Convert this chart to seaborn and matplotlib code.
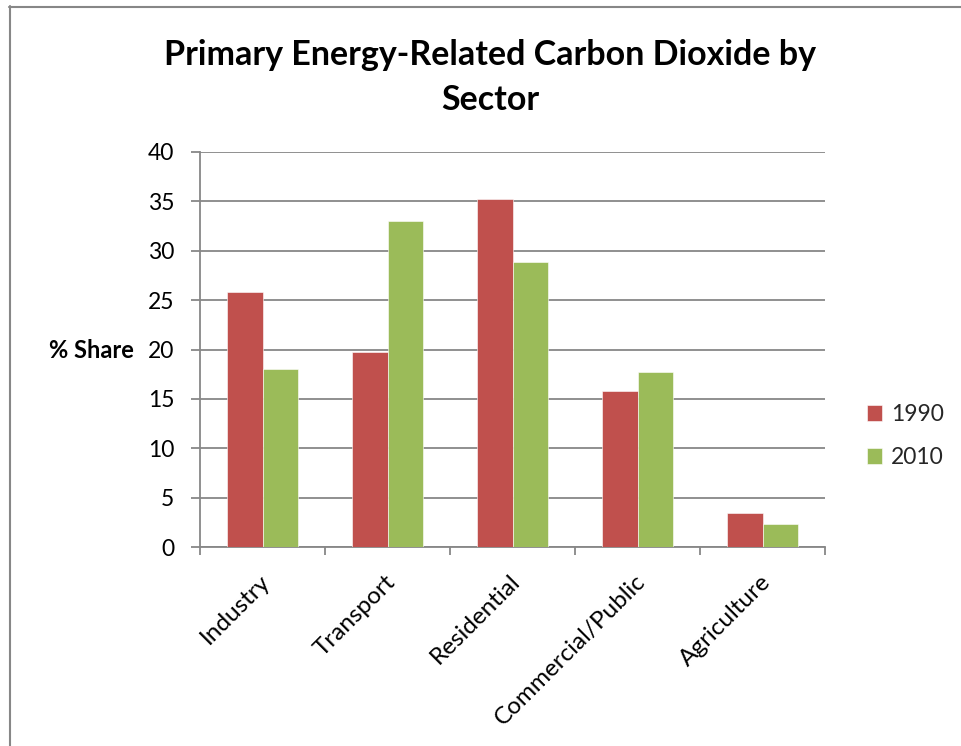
import matplotlib
matplotlib.use("Agg")
import matplotlib.pyplot as plt
import matplotlib.transforms as mtransforms
from matplotlib.lines import Line2D
import seaborn as sns
import pandas as pd

# Data: share of primary energy-related CO2 by sector (%)
sectors = ["Industry", "Transport", "Residential", "Commercial/Public", "Agriculture"]
share_1990 = [25.8, 19.7, 35.2, 15.8, 3.4]
share_2010 = [18.0, 33.0, 28.9, 17.7, 2.3]
years = ["1990", "2010"]
y_ticks = [0, 5, 10, 15, 20, 25, 30, 35, 40]

df = pd.DataFrame({
    "Sector": sectors * 2,
    "Year": [years[0]] * len(sectors) + [years[1]] * len(sectors),
    "Share": share_1990 + share_2010,
})

sns.set_theme(style="white")
plt.rcParams["font.family"] = ["Lato", "DejaVu Sans"]

GRID = "#878787"
W, H, DPI = 962, 746, 100
fig = plt.figure(figsize=(W / DPI, H / DPI), dpi=DPI)
fig.patch.set_facecolor("white")

left, right, top, bottom = 200, 825, 152, 547
ax = fig.add_axes([left / W, 1 - bottom / H, (right - left) / W, (bottom - top) / H])

sns.barplot(
    data=df, x="Sector", y="Share", hue="Year", order=sectors, hue_order=years,
    palette=["#C0504D", "#9BBB59"], width=0.57, saturation=1.0,
    edgecolor="white", linewidth=0.4, ax=ax, legend=True, zorder=3,
)

ax.set_xlim(-0.5, len(sectors) - 0.5)
ax.set_ylim(0, 40)
ax.set_yticks(y_ticks)
ax.set_yticklabels([str(v) for v in y_ticks])
ax.yaxis.grid(True, color=GRID, linewidth=1.3)
ax.xaxis.grid(False)
ax.set_axisbelow(True)

for side in ["top", "right"]:
    ax.spines[side].set_visible(False)
for side in ["left", "bottom"]:
    ax.spines[side].set_color(GRID)
    ax.spines[side].set_linewidth(1.3)

# y ticks point left, category separators point down
ax.tick_params(axis="y", which="major", direction="out", length=6.5, width=1.3,
               color=GRID, left=True, labelsize=16.5, pad=12, labelcolor="black")
ax.set_xticks([i - 0.5 for i in range(len(sectors) + 1)], minor=True)
ax.tick_params(axis="x", which="minor", direction="out", length=6, width=1.3,
               color=GRID, bottom=True)
ax.tick_params(axis="x", which="major", length=0, pad=0, labelsize=17.5,
               labelcolor="black")
ax.set_xticks(range(len(sectors)))
ax.set_xticklabels(sectors, rotation=45, ha="right", va="top",
                   rotation_mode="anchor")
shift = mtransforms.ScaledTranslation(-3 / DPI, -24 / DPI, fig.dpi_scale_trans)
for lbl in ax.get_xticklabels():
    lbl.set_transform(lbl.get_transform() + shift)

ax.set_xlabel("")
ax.set_ylabel("% Share", rotation=0, ha="right", va="center",
              fontsize=17, fontweight="bold", color="black")
ax.yaxis.set_label_coords((134 - left) / (right - left), (bottom - 351) / (bottom - top))

leg = ax.legend(
    loc="center left", bbox_to_anchor=(867 / W, 1 - 436 / H),
    bbox_transform=fig.transFigure, frameon=False, fontsize=16.5,
    handlelength=0.66, handleheight=0.66, handletextpad=0.4,
    labelspacing=0.95, borderpad=0, borderaxespad=0, title=None,
)

fig.text(490 / W, 1 - 65 / H, "Primary Energy-Related Carbon Dioxide by",
         ha="center", va="baseline", fontsize=24.5, fontweight="bold", color="black")
fig.text(490 / W, 1 - 110 / H, "Sector",
         ha="center", va="baseline", fontsize=24.5, fontweight="bold", color="black")

# Chart-area border (left and top edges)
fig.add_artist(Line2D([9.5 / W, 9.5 / W], [0, 1 - 6 / H], transform=fig.transFigure,
                      color=GRID, linewidth=1.5))
fig.add_artist(Line2D([9 / W, 1], [1 - 6.5 / H, 1 - 6.5 / H], transform=fig.transFigure,
                      color=GRID, linewidth=1.5))

fig.savefig("out.png", dpi=DPI, facecolor="white")
